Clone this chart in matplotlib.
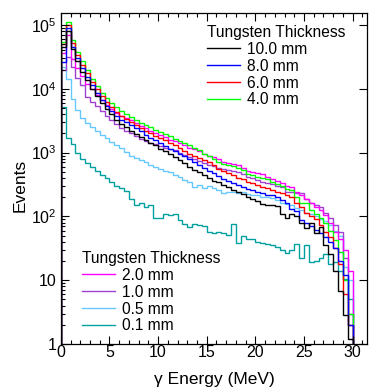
import numpy as np
import matplotlib
matplotlib.use("Agg")
import matplotlib.pyplot as plt
from matplotlib.ticker import LogLocator, FixedLocator, MultipleLocator, NullFormatter, FuncFormatter

plt.rcParams["font.family"] = ["Liberation Sans", "DejaVu Sans"]
plt.rcParams["mathtext.default"] = "regular"

# 0.5 MeV bins from 0 to 30 MeV
edges = np.arange(0, 30.5, 0.5)

w10 = [4.5e4, 8.0e4, 4.2e4, 2.7e4, 1.85e4, 1.35e4, 1.0e4, 7.6e3, 5.9e3, 4.8e3,
       4.0e3, 3.3e3, 2.8e3, 2.5e3, 2.2e3, 1.95e3, 1.75e3, 1.55e3, 1.4e3, 1.3e3,
       1.15e3, 1.05e3, 960, 860, 760, 680, 600, 540, 490, 440,
       400, 360, 340, 310, 290, 260, 240, 225, 205, 185,
       175, 155, 150, 150, 145, 111, 96, 110, 100, 80,
       65, 80, 54, 67, 35, 26, 14, 6.8, 2.8, 1.2]
w8 = [2.6e4, 9.0e4, 4.6e4, 3.0e4, 2.1e4, 1.55e4, 1.15e4, 8.6e3, 6.7e3, 5.4e3,
      4.5e3, 3.8e3, 3.3e3, 3.0e3, 2.7e3, 2.4e3, 2.15e3, 1.9e3, 1.72e3, 1.55e3,
      1.4e3, 1.28e3, 1.15e3, 1.05e3, 950, 870, 780, 710, 650, 580,
      520, 480, 430, 380, 360, 330, 310, 290, 270, 255,
      240, 230, 215, 215, 205, 180, 160, 130, 120, 87,
      80, 70, 62, 54, 47, 40, 32, 20, 12, 2]
w6 = [5.0e4, 1.0e5, 5.2e4, 3.4e4, 2.4e4, 1.75e4, 1.3e4, 9.8e3, 7.6e3, 6.2e3,
      5.2e3, 4.4e3, 3.8e3, 3.35e3, 3.0e3, 2.75e3, 2.45e3, 2.2e3, 2.0e3, 1.85e3,
      1.7e3, 1.55e3, 1.42e3, 1.3e3, 1.18e3, 1.07e3, 960, 900, 820, 760,
      700, 640, 560, 510, 480, 440, 400, 380, 350, 330,
      310, 290, 275, 260, 245, 230, 215, 200, 165, 140,
      115, 100, 90, 72, 56, 47, 32, 18, 6, 2]
w4 = [5.5e4, 1.1e5, 5.8e4, 3.8e4, 2.7e4, 2.0e4, 1.45e4, 1.1e4, 8.6e3, 7.1e3,
      6.0e3, 5.1e3, 4.5e3, 4.0e3, 3.6e3, 3.2e3, 2.95e3, 2.7e3, 2.5e3, 2.3e3,
      2.1e3, 1.95e3, 1.8e3, 1.65e3, 1.5e3, 1.4e3, 1.3e3, 1.2e3, 1.1e3, 960,
      880, 800, 720, 660, 640, 610, 580, 530, 460, 440,
      420, 400, 380, 350, 320, 300, 270, 255, 200, 165,
      160, 125, 110, 95, 80, 60, 42, 28, 10, 3]
w2 = [3.6e4, 7.0e4, 2.9e4, 2.1e4, 1.6e4, 1.2e4, 1.0e4, 8.0e3, 6.6e3, 5.6e3,
      4.8e3, 4.2e3, 3.8e3, 3.5e3, 3.2e3, 2.9e3, 2.65e3, 2.4e3, 2.2e3, 2.05e3,
      1.9e3, 1.75e3, 1.6e3, 1.5e3, 1.4e3, 1.3e3, 1.2e3, 1.15e3, 1.05e3, 950,
      900, 850, 780, 720, 690, 660, 640, 570, 510, 490,
      480, 460, 420, 390, 360, 330, 300, 285, 240, 215,
      190, 160, 140, 125, 104, 80, 56, 45, 30, 14]
w1 = [2.0e4, 3.2e4, 2.2e4, 1.5e4, 1.15e4, 7.5e3, 6.3e3, 5.3e3, 4.5e3, 3.8e3,
      3.2e3, 2.8e3, 2.45e3, 2.2e3, 2.0e3, 1.8e3, 1.65e3, 1.5e3, 1.42e3, 1.35e3,
      1.28e3, 1.2e3, 1.15e3, 1.08e3, 1.0e3, 930, 860, 800, 740, 690,
      650, 610, 580, 550, 530, 510, 490, 460, 420, 400,
      370, 340, 330, 320, 300, 290, 240, 240, 235, 230,
      190, 165, 150, 140, 115, 93, 72, 56, 22, 3]
w05 = [2.2e4, 1.4e4, 7.0e3, 4.6e3, 3.5e3, 2.9e3, 2.5e3, 2.15e3, 1.9e3, 1.7e3,
       1.45e3, 1.3e3, 1.17e3, 1.02e3, 900, 820, 760, 700, 640, 600,
       560, 520, 490, 450, 410, 370, 340, 290, 310, 275,
       300, 280, 255, 230, 245, 240, 235, 240, 225, 215,
       215, 205, 200, 195, 180, 160, 155, 150, 135, 125,
       115, 110, 100, 90, 85, 72, 60, 50, 16, 10]
w01 = [5.2e3, 1.7e3, 1.35e3, 1.0e3, 800, 680, 590, 520, 450, 400,
       340, 295, 280, 250, 185, 150, 160, 140, 150, 93,
       96, 111, 104, 111, 87, 77, 67, 77, 72, 70,
       56, 54, 56, 55, 52, 75, 38, 50, 45, 44,
       40, 38, 37, 35, 33, 30, 27, 30, 37, 22,
       35, 19, 20, 22, 26, 18, 19, 14, 10.6, 5]

series_top = [("10.0 mm", w10, "black"), ("8.0 mm", w8, "#0000ff"),
              ("6.0 mm", w6, "#ff0000"), ("4.0 mm", w4, "#00ff00")]
series_bot = [("2.0 mm", w2, "#ff00ff"), ("1.0 mm", w1, "#a040d0"),
              ("0.5 mm", w05, "#66c8ff"), ("0.1 mm", w01, "#00a0a0")]

fig = plt.figure(figsize=(3.69, 3.90), dpi=100)
ax = fig.add_axes([0.165, 0.118, 0.830, 0.849])

h_top, h_bot = [], []
for label, vals, col in series_bot[::-1] + series_top[::-1]:
    ax.stairs(vals, edges, baseline=0.3, color=col, lw=1.0)
for label, vals, col in series_top:
    h_top.append(plt.Line2D([], [], color=col, lw=1.0, label=label))
for label, vals, col in series_bot:
    h_bot.append(plt.Line2D([], [], color=col, lw=1.0, label=label))

ax.set_yscale("log")
ax.set_xlim(0, 31.5)
ax.set_ylim(1, 1.55e5)

ax.xaxis.set_major_locator(MultipleLocator(5))
ax.xaxis.set_minor_locator(MultipleLocator(1))
ax.yaxis.set_major_locator(FixedLocator([1, 10, 100, 1e3, 1e4, 1e5]))
ax.yaxis.set_minor_locator(LogLocator(base=10, subs=np.arange(2, 10)))
ax.yaxis.set_minor_formatter(NullFormatter())


def ylab(v, pos):
    if v == 1:
        return "1"
    if v == 10:
        return "10"
    return "$10^{%d}$" % int(round(np.log10(v)))


ax.yaxis.set_major_formatter(FuncFormatter(ylab))

ax.tick_params(which="both", direction="in", top=True, right=True, labelsize=11.5)
ax.tick_params(which="major", length=6, width=0.8)
ax.tick_params(which="minor", length=3, width=0.8)
ax.tick_params(axis="y", which="minor", right=False)
ax.tick_params(axis="x", pad=1)
ax.tick_params(axis="y", pad=3)
for sp in ax.spines.values():
    sp.set_linewidth(0.9)

ax.set_xlabel("\u03b3 Energy (MeV)", fontsize=12.5)
ax.set_ylabel("Events", fontsize=12.5)
ax.xaxis.set_label_coords(0.5, -0.085)
ax.yaxis.set_label_coords(-0.11, 0.48)

leg_kw = dict(frameon=False, fontsize=11.2, title_fontsize=11.2,
              handlelength=2.1, handletextpad=0.45, labelspacing=0.12,
              borderpad=0, borderaxespad=0, alignment="left")
leg1 = ax.legend(handles=h_top, title="Tungsten Thickness",
                 loc="upper left", bbox_to_anchor=(207 / 369, 1 - 25 / 390),
                 bbox_transform=fig.transFigure, **leg_kw)
ax.add_artist(leg1)
ax.legend(handles=h_bot, title="Tungsten Thickness",
          loc="upper left", bbox_to_anchor=(82 / 369, 1 - 251 / 390),
          bbox_transform=fig.transFigure, **leg_kw)

fig.savefig("out.png", dpi=100)
